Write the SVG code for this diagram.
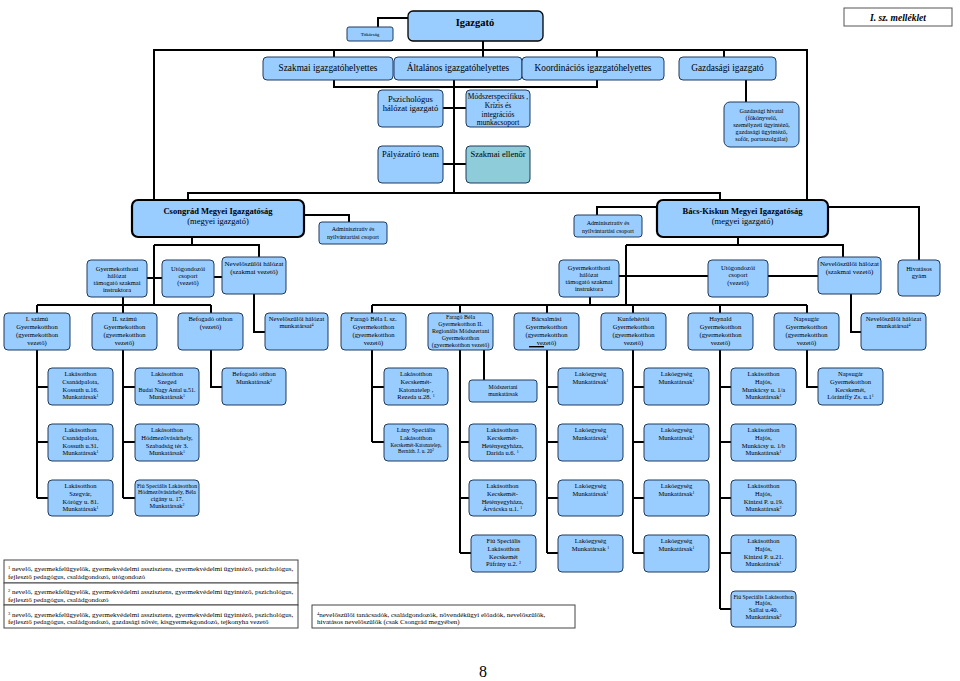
<svg xmlns="http://www.w3.org/2000/svg" width="960" height="681" viewBox="0 0 960 681">
<style>
.b{fill:#99CCFF;stroke:#1F3A5F;stroke-width:1}
.B{fill:#99CCFF;stroke:#000;stroke-width:2.2}
.t{font-family:"Liberation Serif","Times New Roman",serif;fill:#000;text-anchor:middle}
.s{font-size:6.5px}
.m{font-size:8.5px}
.d{font-size:9.3px}
.k{font-size:8.5px}
.bold{font-weight:bold}
.fn{font-family:"Liberation Serif","Times New Roman",serif;fill:#000;font-size:7px}
.c path{stroke:#000;stroke-width:2;fill:none}
</style>
<rect width="960" height="681" fill="#fff"/>
<g class="c" id="connectors">
<path d="M408,18H378V27"/>
<path d="M154,200V50H807V200"/>
<path d="M483,41V57"/>
<path d="M334,50V57M597,50V57M724,50V57"/>
<path d="M334,80V87H597V80"/>
<path d="M454,80V193"/>
<path d="M188,200V193H720V200"/>
<path d="M443,108H466M443,164H466"/>
<path d="M746,80V102"/>
<path d="M304,215H349V222"/>
<path d="M192,237V245M154,245H259V257M154,245V305"/>
<path d="M147,278H162M214,277H222"/>
<path d="M123,297V305"/>
<path d="M37,305H211"/>
<path d="M37,305V498M37,387H48M37,442H48M37,498H48"/>
<path d="M123,305V498M123,387H135M123,442H135M123,498H135"/>
<path d="M211,305V387H222"/>
<path d="M254,294V332H265"/>
<path d="M657,207H597V215M828,207H919V260"/>
<path d="M738,237V245M626,245H843V257M626,245V305"/>
<path d="M619,276H708M768,276H818"/>
<path d="M590,297V305"/>
<path d="M851,294V332H861"/>
<path d="M372,305H807"/>
<path d="M372,305V442M372,387H384M372,442H384"/>
<path d="M460,305V553M460,442H469M460,498H469M460,553H471M484,350V380"/>
<path d="M547,305V553M547,387H558M547,442H558M547,498H558M547,553H558"/>
<path d="M633,305V553M633,387H644M633,442H644M633,498H644M633,553H644"/>
<path d="M720,305V609M720,387H731M720,442H731M720,498H731M720,553H731M720,609H731"/>
<path d="M807,305V387H818"/>
</g>

<g id="titkarsag"><rect class="b" x="347" y="27" width="46" height="14" rx="2"/><text class="t" x="370" y="36" font-size="5">Titkárság</text></g>
<g id="igazgato"><rect class="b" x="408" y="11" width="135" height="30" rx="5" style="stroke:#000;stroke-width:1.3"/><text class="t bold" x="475" y="26" font-size="10.5">Igazgató</text></g>
<g id="melleklet"><rect x="844" y="8" width="108" height="18" fill="#fff" stroke="#555" stroke-width="1"/><text class="t bold" x="898" y="21" font-size="9.5" font-style="italic">I. sz. melléklet</text></g>

<g id="szakmai_ih"><rect class="b" x="263" y="57" width="130" height="23" rx="4"/><text class="t d" x="328" y="71">Szakmai igazgatóhelyettes</text></g>
<g id="altalanos_ih"><rect class="b" x="394" y="57" width="128" height="23" rx="4"/><text class="t d" x="458" y="71">Általános igazgatóhelyettes</text></g>
<g id="koord_ih"><rect class="b" x="522" y="57" width="142" height="23" rx="4"/><text class="t d" x="593" y="71">Koordinációs igazgatóhelyettes</text></g>
<g id="gazd_ig"><rect class="b" x="679" y="57" width="97" height="23" rx="4"/><text class="t d" x="727.5" y="71">Gazdasági igazgató</text></g>

<g id="pszich"><rect class="b" x="378" y="90" width="65" height="37" rx="4"/><text class="t m" x="410.5"><tspan x="410.5" y="101.5">Pszichológus</tspan><tspan x="410.5" y="110.5">hálózat igazgató</tspan></text></g>
<g id="modszer"><rect class="b" x="466" y="90" width="64" height="37" rx="4"/><text class="t" font-size="7.5" x="498"><tspan x="498" y="99">Módszerspecifikus ,</tspan><tspan x="498" y="108">Krízis és</tspan><tspan x="498" y="117">integrációs</tspan><tspan x="498" y="125">munkacsoport</tspan></text></g>
<g id="palyazat"><rect class="b" x="378" y="146" width="65" height="37" rx="4"/><text class="t m" x="410.5" y="157">Pályázatíró team</text></g>
<g id="szakmai_ell"><rect class="b" x="466" y="146" width="64" height="37" rx="4" style="fill:#8DCCD8"/><text class="t m" x="498" y="157">Szakmai ellenőr</text></g>
<g id="gazd_hivatal"><rect class="b" x="724" y="102" width="75" height="45" rx="6"/><text class="t" font-size="6.2" x="761.5"><tspan x="761.5" y="113">Gazdasági hivatal</tspan><tspan x="761.5" y="120">(főkönyvelő,</tspan><tspan x="761.5" y="127">személyzeti ügyintéző,</tspan><tspan x="761.5" y="134">gazdasági ügyintéző,</tspan><tspan x="761.5" y="141">sofőr, portaszolgálat)</tspan></text></g>

<g id="csongrad"><rect class="B" x="132" y="200" width="172" height="37" rx="6"/><text class="t k" x="218"><tspan class="bold" x="218" y="213.5">Csongrád Megyei Igazgatóság</tspan><tspan x="218" y="223.5">(megyei igazgató)</tspan></text></g>
<g id="adm_cs"><rect class="b" x="319" y="222" width="68" height="22" rx="3"/><text class="t" font-size="6" x="353"><tspan x="353" y="231">Adminisztratív és</tspan><tspan x="353" y="239">nyilvántartási csoport</tspan></text></g>
<g id="gyhal_cs"><rect class="b" x="87" y="260" width="60" height="37" rx="4"/><text class="t s" x="117"><tspan x="117" y="270.5">Gyermekotthoni</tspan><tspan x="117" y="277.5">hálózat</tspan><tspan x="117" y="284.5">támogató szakmai</tspan><tspan x="117" y="291.5">instruktora</tspan></text></g>
<g id="utog_cs"><rect class="b" x="162" y="260" width="52" height="37" rx="4"/><text class="t s" x="188"><tspan x="188" y="270.5">Utógondozói</tspan><tspan x="188" y="277.5">csoport</tspan><tspan x="188" y="284.5">(vezető)</tspan></text></g>
<g id="nev_cs"><rect class="b" x="222" y="257" width="64" height="37" rx="4"/><text class="t" font-size="7" x="254"><tspan x="254" y="266">Nevelőszülői hálózat</tspan><tspan x="254" y="273.5">(szakmai vezető)</tspan></text></g>

<g id="bacs"><rect class="B" x="657" y="200" width="171" height="37" rx="6"/><text class="t k" x="742.5"><tspan class="bold" x="742.5" y="213.5">Bács-Kiskun Megyei Igazgatóság</tspan><tspan x="742.5" y="223.5">(megyei igazgató)</tspan></text></g>
<g id="adm_bk"><rect class="b" x="574" y="215" width="68" height="22" rx="3"/><text class="t" font-size="6" x="608"><tspan x="608" y="225">Adminisztratív és</tspan><tspan x="608" y="233">nyilvántartási csoport</tspan></text></g>
<g id="gyhal_bk"><rect class="b" x="559" y="260" width="60" height="37" rx="4"/><text class="t s" x="589"><tspan x="589" y="270">Gyermekotthoni</tspan><tspan x="589" y="277">hálózat</tspan><tspan x="589" y="284">támogató szakmai</tspan><tspan x="589" y="291">instruktora</tspan></text></g>
<g id="utog_bk"><rect class="b" x="708" y="260" width="60" height="37" rx="4"/><text class="t s" x="738"><tspan x="738" y="270">Utógondozói</tspan><tspan x="738" y="277">csoport</tspan><tspan x="738" y="284.5">(vezető)</tspan></text></g>
<g id="nev_bk"><rect class="b" x="818" y="257" width="63" height="37" rx="4"/><text class="t" font-size="7" x="849.5"><tspan x="849.5" y="266">Nevelőszülői hálózat</tspan><tspan x="849.5" y="273.5">(szakmai vezető)</tspan></text></g>
<g id="hiv_gyam"><rect class="b" x="898" y="260" width="42" height="36" rx="4"/><text class="t s" x="919"><tspan x="919" y="270.5">Hivatásos</tspan><tspan x="919" y="277.5">gyám</tspan></text></g>

<g id="go1"><rect class="b" x="4" y="313" width="66" height="37" rx="4"/><text class="t" font-size="6.6" x="37"><tspan x="37" y="320.5">I. számú</tspan><tspan x="37" y="328.5">Gyermekotthon</tspan><tspan x="37" y="336.5">(gyermekotthon</tspan><tspan x="37" y="344.5">vezető)</tspan></text></g>
<g id="go2"><rect class="b" x="92" y="313" width="65" height="37" rx="4"/><text class="t" font-size="6.6" x="124.5"><tspan x="124.5" y="320.5">II. számú</tspan><tspan x="124.5" y="328.5">Gyermekotthon</tspan><tspan x="124.5" y="336.5">(gyermekotthon</tspan><tspan x="124.5" y="344.5">vezető)</tspan></text></g>
<g id="befogado"><rect class="b" x="178" y="313" width="65" height="37" rx="4"/><text class="t" font-size="6.6" x="210.5"><tspan x="210.5" y="320.5">Befogadó otthon</tspan><tspan x="210.5" y="328.5">(vezető)</tspan></text></g>
<g id="nevmunk_cs"><rect class="b" x="265" y="313" width="63" height="37" rx="4"/><text class="t" font-size="6.6" x="296.5"><tspan x="296.5" y="320.5">Nevelőszülői hálózat</tspan><tspan x="296.5" y="328">munkatársai<tspan font-size="4" baseline-shift="super">4</tspan></tspan></text></g>
<g id="farago1"><rect class="b" x="341" y="313" width="65" height="37" rx="4"/><text class="t" font-size="6.6" x="373.5"><tspan x="373.5" y="320.5">Faragó Béla I. sz.</tspan><tspan x="373.5" y="328.5">Gyermekotthon</tspan><tspan x="373.5" y="336.5">(gyermekotthon</tspan><tspan x="373.5" y="344.5">vezető)</tspan></text></g>
<g id="farago2"><rect class="b" x="428" y="313" width="65" height="37" rx="4"/><text class="t" font-size="6" x="460.5"><tspan x="460.5" y="318.8">Faragó Béla</tspan><tspan x="460.5" y="326">Gyermekotthon  II.</tspan><tspan x="460.5" y="333">Regionális Módszertani</tspan><tspan x="460.5" y="340">Gyermekotthon</tspan><tspan x="460.5" y="347">(gyermekotthon vezető)</tspan></text></g>
<g id="bacsalmasi"><rect class="b" x="514" y="313" width="65" height="37" rx="4"/><text class="t" font-size="6.6" x="546.5"><tspan x="546.5" y="320.5">Bácsalmási</tspan><tspan x="546.5" y="328.5">Gyermekotthon</tspan><tspan x="546.5" y="336.5">(gyermekotthon</tspan><tspan x="546.5" y="344.5">vezető)</tspan></text><path d="M529,346.7H544" stroke="#000" stroke-width="1.4"/></g>
<g id="kunfeherto"><rect class="b" x="601" y="313" width="65" height="37" rx="4"/><text class="t" font-size="6.6" x="633.5"><tspan x="633.5" y="320.5">Kunfehértói</tspan><tspan x="633.5" y="328.5">Gyermekotthon</tspan><tspan x="633.5" y="336.5">(gyermekotthon</tspan><tspan x="633.5" y="344.5">vezető)</tspan></text></g>
<g id="haynald"><rect class="b" x="688" y="313" width="65" height="37" rx="4"/><text class="t" font-size="6.6" x="720.5"><tspan x="720.5" y="320.5">Haynald</tspan><tspan x="720.5" y="328.5">Gyermekotthon</tspan><tspan x="720.5" y="336.5">(gyermekotthon</tspan><tspan x="720.5" y="344.5">vezető)</tspan></text></g>
<g id="napsugar"><rect class="b" x="774" y="313" width="65" height="37" rx="4"/><text class="t" font-size="6.6" x="806.5"><tspan x="806.5" y="320.5">Napsugár</tspan><tspan x="806.5" y="328.5">Gyermekotthon</tspan><tspan x="806.5" y="336.5">(gyermekotthon</tspan><tspan x="806.5" y="344.5">vezető)</tspan></text></g>
<g id="nevmunk_bk"><rect class="b" x="861" y="313" width="65" height="37" rx="4"/><text class="t" font-size="6.6" x="893.5"><tspan x="893.5" y="320.5">Nevelőszülői hálózat</tspan><tspan x="893.5" y="328">munkatársai<tspan font-size="4" baseline-shift="super">4</tspan></tspan></text></g>

<g id="lo_csanad16"><rect class="b" x="48" y="368" width="65" height="37" rx="4"/><text class="t s" x="80.5"><tspan x="80.5" y="376">Lakásotthon</tspan><tspan x="80.5" y="384">Csanádpalota,</tspan><tspan x="80.5" y="391.5">Kossuth u.16.</tspan><tspan x="80.5" y="399">Munkatársak<tspan font-size="4" baseline-shift="super">1</tspan></tspan></text></g>
<g id="lo_szeged"><rect class="b" x="135" y="368" width="64" height="37" rx="4"/><text class="t s" x="167"><tspan x="167" y="376">Lakásotthon</tspan><tspan x="167" y="384">Szeged</tspan><tspan x="167" y="391.5" font-size="6">Budai Nagy Antal u.51.</tspan><tspan x="167" y="399">Munkatársak<tspan font-size="4" baseline-shift="super">1</tspan></tspan></text></g>
<g id="befogado_m"><rect class="b" x="222" y="368" width="64" height="37" rx="4"/><text class="t s" x="254"><tspan x="254" y="376">Befogadó otthon</tspan><tspan x="254" y="383.5">Munkatársak<tspan font-size="4" baseline-shift="super">2</tspan></tspan></text></g>
<g id="lo_rezeda"><rect class="b" x="384" y="368" width="64" height="37" rx="4"/><text class="t s" x="416"><tspan x="416" y="376">Lakásotthon</tspan><tspan x="416" y="384">Kecskemét-</tspan><tspan x="416" y="391.5">Katonatelep ,</tspan><tspan x="416" y="399">Rezeda u.28. <tspan font-size="4" baseline-shift="super">1</tspan></tspan></text></g>
<g id="modszertani_m"><rect class="b" x="469" y="380" width="68" height="22" rx="3"/><text class="t" font-size="5.8" x="503"><tspan x="503" y="389.3">Módszertani</tspan><tspan x="503" y="396.3">munkatársak</tspan></text></g>
<g id="le_ba1"><rect class="b" x="558" y="368" width="65" height="37" rx="4"/><text class="t s" x="590.5"><tspan x="590.5" y="376">Lakóegység</tspan><tspan x="590.5" y="384">Munkatársak<tspan font-size="4" baseline-shift="super">1</tspan></tspan></text></g>
<g id="le_ku1"><rect class="b" x="644" y="368" width="65" height="37" rx="4"/><text class="t s" x="676.5"><tspan x="676.5" y="376">Lakóegység</tspan><tspan x="676.5" y="384">Munkatársak<tspan font-size="4" baseline-shift="super">1</tspan></tspan></text></g>
<g id="lo_hajos1a"><rect class="b" x="731" y="368" width="65" height="37" rx="4"/><text class="t s" x="763.5"><tspan x="763.5" y="376">Lakásotthon</tspan><tspan x="763.5" y="384">Hajós,</tspan><tspan x="763.5" y="391.5">Munkácsy u. 1/a</tspan><tspan x="763.5" y="399">Munkatársak<tspan font-size="4" baseline-shift="super">1</tspan></tspan></text></g>
<g id="napsugar_kecs"><rect class="b" x="818" y="368" width="65" height="37" rx="4"/><text class="t s" x="850.5"><tspan x="850.5" y="376">Napsugár</tspan><tspan x="850.5" y="384">Gyermekotthon</tspan><tspan x="850.5" y="391.5">Kecskemét,</tspan><tspan x="850.5" y="399">Lórántffy Zs. u.1<tspan font-size="4" baseline-shift="super">1</tspan></tspan></text></g>

<g id="lo_csanad31"><rect class="b" x="48" y="424" width="65" height="37" rx="4"/><text class="t s" x="80.5"><tspan x="80.5" y="432">Lakásotthon</tspan><tspan x="80.5" y="440">Csanádpalota,</tspan><tspan x="80.5" y="447.5">Kossuth u.31.</tspan><tspan x="80.5" y="455">Munkatársak<tspan font-size="4" baseline-shift="super">1</tspan></tspan></text></g>
<g id="lo_hodmezo"><rect class="b" x="135" y="424" width="64" height="37" rx="4"/><text class="t s" x="167"><tspan x="167" y="432">Lakásotthon</tspan><tspan x="167" y="440">Hódmezővásárhely,</tspan><tspan x="167" y="447.5">Szabadság tér 3.</tspan><tspan x="167" y="455">Munkatársak<tspan font-size="4" baseline-shift="super">1</tspan></tspan></text></g>
<g id="lany_spec"><rect class="b" x="384" y="424" width="64" height="37" rx="4"/><text class="t s" x="416"><tspan x="416" y="432">Lány Speciális</tspan><tspan x="416" y="440">Lakásotthon</tspan><tspan x="416" y="446.5" font-size="5.2">Kecskemét-Katonatelep,</tspan><tspan x="416" y="452.5" font-size="5.2">Bernáth. J. u. 20<tspan font-size="3.5" baseline-shift="super">2</tspan></tspan></text></g>
<g id="lo_darida"><rect class="b" x="469" y="424" width="67" height="37" rx="4"/><text class="t s" x="502.5"><tspan x="502.5" y="432">Lakásotthon</tspan><tspan x="502.5" y="440">Kecskemét-</tspan><tspan x="502.5" y="447.5">Hetényegyháza,</tspan><tspan x="502.5" y="455">Darida u.6. <tspan font-size="4" baseline-shift="super">1</tspan></tspan></text></g>
<g id="le_ba2"><rect class="b" x="558" y="424" width="65" height="37" rx="4"/><text class="t s" x="590.5"><tspan x="590.5" y="432">Lakóegység</tspan><tspan x="590.5" y="440">Munkatársak<tspan font-size="4" baseline-shift="super">1</tspan></tspan></text></g>
<g id="le_ku2"><rect class="b" x="644" y="424" width="65" height="37" rx="4"/><text class="t s" x="676.5"><tspan x="676.5" y="432">Lakóegység</tspan><tspan x="676.5" y="440">Munkatársak<tspan font-size="4" baseline-shift="super">1</tspan></tspan></text></g>
<g id="lo_hajos1b"><rect class="b" x="731" y="424" width="65" height="37" rx="4"/><text class="t s" x="763.5"><tspan x="763.5" y="432">Lakásotthon</tspan><tspan x="763.5" y="440">Hajós,</tspan><tspan x="763.5" y="447.5">Munkácsy u. 1/b</tspan><tspan x="763.5" y="455">Munkatársak<tspan font-size="4" baseline-shift="super">1</tspan></tspan></text></g>

<g id="lo_szegvar"><rect class="b" x="48" y="480" width="65" height="36" rx="4"/><text class="t s" x="80.5"><tspan x="80.5" y="488">Lakásotthon</tspan><tspan x="80.5" y="496">Szegvár,</tspan><tspan x="80.5" y="503.5">Kórógy u. 81.</tspan><tspan x="80.5" y="511">Munkatársak<tspan font-size="4" baseline-shift="super">1</tspan></tspan></text></g>
<g id="fiu_hodmezo"><rect class="b" x="135" y="480" width="64" height="36" rx="4"/><text class="t" font-size="5.8" x="167"><tspan x="167" y="487.5">Fiú Speciális Lakásotthon</tspan><tspan x="167" y="493.5">Hódmezővásárhely, Béla</tspan><tspan x="167" y="500.5" font-size="6.3">cigány u. 17.</tspan><tspan x="167" y="508" font-size="6.3">Munkatársak<tspan font-size="4" baseline-shift="super">2</tspan></tspan></text></g>
<g id="lo_arvacska"><rect class="b" x="469" y="480" width="67" height="36" rx="4"/><text class="t s" x="502.5"><tspan x="502.5" y="488">Lakásotthon</tspan><tspan x="502.5" y="496">Kecskemét-</tspan><tspan x="502.5" y="503.5">Hetényegyháza,</tspan><tspan x="502.5" y="511">Árvácska u.1. <tspan font-size="4" baseline-shift="super">1</tspan></tspan></text></g>
<g id="le_ba3"><rect class="b" x="558" y="480" width="65" height="36" rx="4"/><text class="t s" x="590.5"><tspan x="590.5" y="488">Lakóegység</tspan><tspan x="590.5" y="496">Munkatársak<tspan font-size="4" baseline-shift="super">1</tspan></tspan></text></g>
<g id="le_ku3"><rect class="b" x="644" y="480" width="65" height="36" rx="4"/><text class="t s" x="676.5"><tspan x="676.5" y="488">Lakóegység</tspan><tspan x="676.5" y="496">Munkatársak<tspan font-size="4" baseline-shift="super">1</tspan></tspan></text></g>
<g id="lo_kinizsi19"><rect class="b" x="731" y="480" width="65" height="36" rx="4"/><text class="t s" x="763.5"><tspan x="763.5" y="488">Lakásotthon</tspan><tspan x="763.5" y="496">Hajós,</tspan><tspan x="763.5" y="503.5">Kinizsi P. u.19.</tspan><tspan x="763.5" y="511">Munkatársak<tspan font-size="4" baseline-shift="super">2</tspan></tspan></text></g>

<g id="fiu_kecs"><rect class="b" x="471" y="535" width="65" height="37" rx="4"/><text class="t s" x="503.5"><tspan x="503.5" y="543">Fiú Speciális</tspan><tspan x="503.5" y="551">Lakásotthon</tspan><tspan x="503.5" y="558.5">Kecskemét</tspan><tspan x="503.5" y="566">Páfrány u.2. <tspan font-size="4" baseline-shift="super">2</tspan></tspan></text></g>
<g id="le_ba4"><rect class="b" x="558" y="535" width="65" height="37" rx="4"/><text class="t s" x="590.5"><tspan x="590.5" y="543">Lakóegység</tspan><tspan x="590.5" y="551">Munkatársak <tspan font-size="4" baseline-shift="super">1</tspan></tspan></text></g>
<g id="le_ku4"><rect class="b" x="644" y="535" width="65" height="37" rx="4"/><text class="t s" x="676.5"><tspan x="676.5" y="543">Lakóegység</tspan><tspan x="676.5" y="551">Munkatársak<tspan font-size="4" baseline-shift="super">1</tspan></tspan></text></g>
<g id="lo_kinizsi21"><rect class="b" x="731" y="535" width="65" height="37" rx="4"/><text class="t s" x="763.5"><tspan x="763.5" y="543">Lakásotthon</tspan><tspan x="763.5" y="551">Hajós,</tspan><tspan x="763.5" y="558.5">Kinizsi P. u.21.</tspan><tspan x="763.5" y="566">Munkatársak<tspan font-size="4" baseline-shift="super">1</tspan></tspan></text></g>
<g id="fiu_sallai"><rect class="b" x="731" y="591" width="65" height="36" rx="4"/><text class="t s" x="763.5"><tspan x="763.5" y="598.5" font-size="5.8">Fiú Speciális Lakásotthon</tspan><tspan x="763.5" y="605">Hajós,</tspan><tspan x="763.5" y="611.5">Sallai u.40.</tspan><tspan x="763.5" y="618.5">Munkatársak<tspan font-size="4" baseline-shift="super">2</tspan></tspan></text></g>

<g id="footnotes">
<rect x="4" y="560" width="294" height="23" fill="#fff" stroke="#444" stroke-width="1"/>
<rect x="4" y="583" width="294" height="22" fill="#fff" stroke="#444" stroke-width="1"/>
<rect x="4" y="605" width="294" height="23" fill="#fff" stroke="#444" stroke-width="1"/>
<rect x="312" y="605" width="263" height="23" fill="#fff" stroke="#444" stroke-width="1"/>
<text class="fn"><tspan x="8" y="571"><tspan font-size="4.5" baseline-shift="super">1</tspan> nevelő, gyermekfelügyelők, gyermekvédelmi asszisztens, gyermekvédelmi ügyintéző, pszichológus,</tspan><tspan x="8" y="579">fejlesztő pedagógus, családgondozó, utógondozó</tspan></text>
<text class="fn"><tspan x="8" y="594"><tspan font-size="4.5" baseline-shift="super">2</tspan> nevelő, gyermekfelügyelők, gyermekvédelmi asszisztens, gyermekvédelmi ügyintéző, pszichológus,</tspan><tspan x="8" y="601.5">fejlesztő pedagógus, családgondozó</tspan></text>
<text class="fn"><tspan x="8" y="616.5"><tspan font-size="4.5" baseline-shift="super">3</tspan> nevelő, gyermekfelügyelők, gyermekvédelmi asszisztens, gyermekvédelmi ügyintéző, pszichológus,</tspan><tspan x="8" y="624">fejlesztő pedagógus, családgondozó, gazdasági nővér, kisgyermekgondozó, tejkonyha vezető</tspan></text>
<text class="fn"><tspan x="317" y="616.5"><tspan font-size="4.5" baseline-shift="super">4</tspan>nevelőszülői tanácsadók, családgondozók, növendékügyi előadók, nevelőszülők,</tspan><tspan x="317" y="624">hivatásos nevelőszülők (csak Csongrád megyében)</tspan></text>
</g>
<text id="pagenum" class="t" x="483" y="677" font-size="16">8</text>
</svg>
